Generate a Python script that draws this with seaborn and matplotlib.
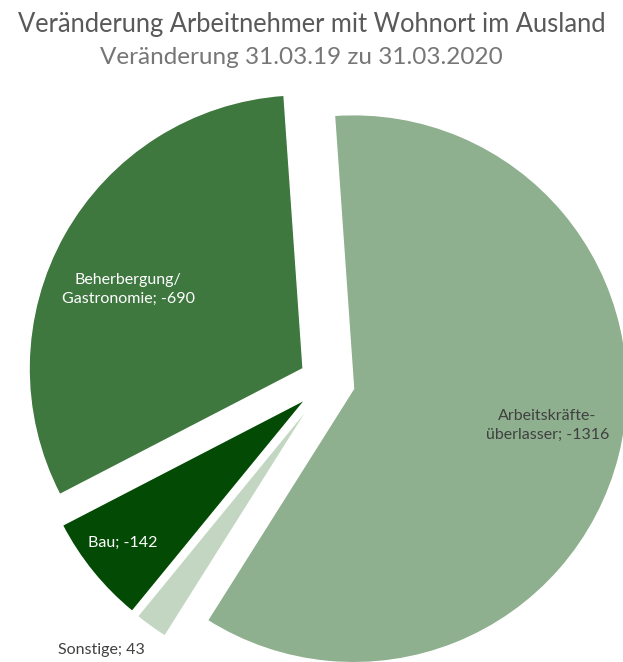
import numpy as np
import seaborn as sns
from matplotlib import pyplot as plt

# Daten: Veränderung 31.03.19 zu 31.03.2020
kategorien = ["Arbeitskräfte-\nüberlasser", "Sonstige", "Bau", "Beherbergung/\nGastronomie"]
veraenderung = [-1316, 43, -142, -690]
farben = ["#8fb08f", "#c2d6c2", "#034b05", "#3e783f"]

sns.set_theme(style="white")
plt.rcParams['font.family'] = ['Lato', 'DejaVu Sans']

fig = plt.figure(figsize=(6.23, 6.62), dpi=100)
ax = fig.add_axes([0, 0, 1, 1])

groessen = np.abs(veraenderung)
wedges, _ = ax.pie(groessen, colors=sns.color_palette(farben), startangle=94,
                   counterclock=False, explode=[0.1] * len(groessen), radius=1)

# Position der Beschriftungen (Abstand vom Sektorzentrum, Winkelkorrektur)
abstand = [0.72, 1.18, 0.85, 0.70]
winkel_korr = [3.5, -4.7, -0.9, 5.0]
textfarbe = ["#404040", "#404040", "white", "white"]
for w, kat, wert, d, k, tc in zip(wedges, kategorien, veraenderung, abstand, winkel_korr, textfarbe):
    mitte = np.deg2rad((w.theta1 + w.theta2) / 2 + k)
    cx, cy = w.center
    ax.text(cx + d * np.cos(mitte), cy + d * np.sin(mitte), f"{kat}; {wert}",
            ha='center', va='center', fontsize=11.5, color=tc, linespacing=1.45)

r_px = 274
ax.set_xlim(-327 / r_px, (623 - 327) / r_px)
ax.set_ylim(-(662 - 382) / r_px, 382 / r_px)
ax.set_aspect('auto')
ax.axis('off')

fig.text(0.5, 1 - 32 / 662, "Veränderung Arbeitnehmer mit Wohnort im Ausland",
         ha='center', va='baseline', fontsize=18.4, color='#595959')
fig.text(0.484, 1 - 64 / 662, "Veränderung 31.03.19 zu 31.03.2020",
         ha='center', va='baseline', fontsize=17.5, color='#767676')

plt.savefig('out.png', dpi=100)
